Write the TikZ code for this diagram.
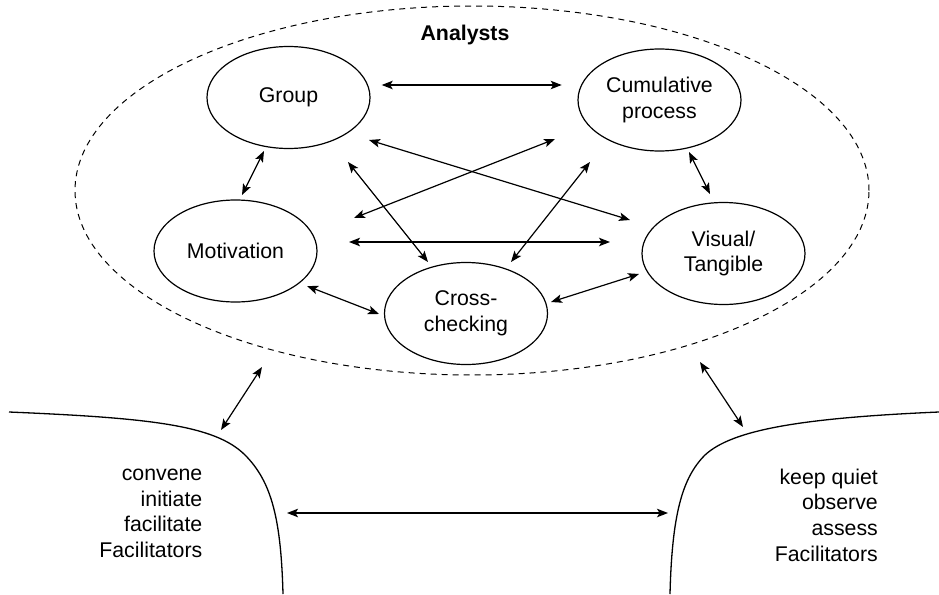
\documentclass[tikz,border=0pt]{standalone}
\usepackage{fontspec}
\setmainfont{Liberation Sans}
\usetikzlibrary{shapes.geometric,arrows.meta,calc}
\begin{document}
\begin{tikzpicture}[x=1pt,y=-1pt,
  every node/.style={font=\fontsize{21.3}{25.7}\selectfont},
  bubble/.style={ellipse,draw,line width=1.2pt,minimum width=163pt,minimum height=102pt,inner sep=0pt,outer sep=0pt,align=center},
  tip/.style={Stealth[length=11pt,width=8.5pt,inset=2.5pt]},
  link/.style={line width=1.2pt,{Stealth[length=11pt,width=8.5pt,inset=2.5pt]}-{Stealth[length=11pt,width=8.5pt,inset=2.5pt]}},
  boundary/.style={line width=1.3pt},
  facts/.style={align=right,inner sep=0pt,anchor=east}
]
\useasboundingbox (0,0) rectangle (939,594);
\fill[white] (0,0) rectangle (939,594);

% analysts region
\node (ana) [ellipse,draw,line width=1pt,dash pattern=on 6pt off 5pt,minimum width=794pt,minimum height=369pt,inner sep=0pt,outer sep=0pt] at (472,190.5) {};
\node (anatitle) [font=\fontsize{21.3}{25.7}\selectfont\bfseries] at (465,35) {Analysts};

% bubbles
\node (grp) [bubble] at (288.5,97.5) {Group};
\node (cum) [bubble] at (659.5,100) {Cumulative\\process};
\node (mot) [bubble] at (235.5,251) {Motivation};
\node (vis) [bubble] at (723.5,253.5) {Visual/\\Tangible};
\node (crs) [bubble] at (466,313.5) {Cross-\\checking};

% connectors inside
\draw[link] ($(grp)+(93.2,-12.5)$) -- ($(cum)+(-97.8,-15)$);
\draw[link] ($(grp)+(-24.5,53.5)$) -- ($(mot)+(6.5,-56)$);
\draw[link] ($(cum)+(29.5,52)$) -- ($(vis)+(-13.5,-59.5)$);
\draw[link] ($(mot)+(71.5,35)$) -- ($(crs)+(-87,0.5)$);
\draw[link] ($(crs)+(85,-11.5)$) -- ($(vis)+(-84.5,20.5)$);
\draw[link] ($(mot)+(113.5,-9)$) -- ($(vis)+(-113.5,-11.5)$);
\draw[link] ($(grp)+(80.5,42.5)$) -- ($(vis)+(-93.5,-33.5)$);
\draw[link] ($(cum)+(-104.5,39)$) -- ($(mot)+(118.5,-33)$);
\draw[link] ($(grp)+(59.5,64.5)$) -- ($(crs)+(-38,-51.5)$);
\draw[link] ($(cum)+(-69.5,62)$) -- ($(crs)+(45,-51.5)$);

% facilitator boundaries
\draw[boundary] (9,412) .. controls (150,418) and (215,425) .. (245,455)
                        .. controls (272,482) and (281,520) .. (283,594);
\draw[boundary] (939,412) .. controls (800,418) and (732,430) .. (705,455)
                          .. controls (682,478) and (672,515) .. (670,594);
\coordinate (lf) at (221,430);
\coordinate (rf) at (743,427);
\coordinate (lfin) at (287,513);
\coordinate (rfin) at (668,513);

\node (lefttxt) [facts] at (202.5,513.5) {convene\\initiate\\facilitate\\Facilitators};
\node (righttxt) [facts] at (878,515) {keep quiet\\observe\\assess\\Facilitators};

\draw[link] ($(ana)+(-210,176.5)$) -- (lf);
\draw[link] ($(ana)+(228,171.5)$) -- (rf);
\draw[link] (lfin) -- (rfin);
\end{tikzpicture}
\end{document}
